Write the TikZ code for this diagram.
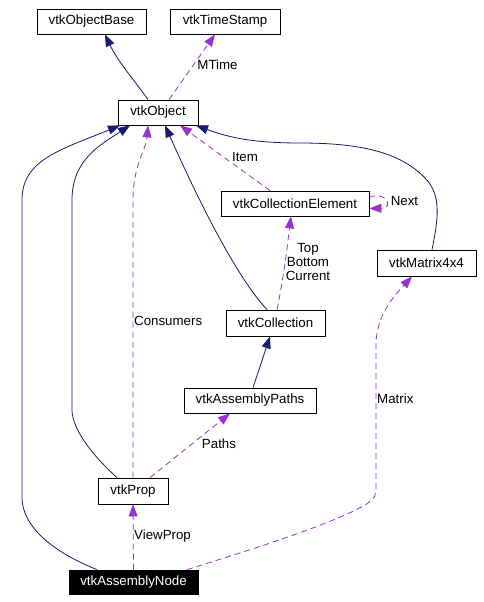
\documentclass[tikz,border=0pt]{standalone}
\usepackage{fontspec}
\setmainfont{Liberation Sans}
\usetikzlibrary{arrows.meta}
\definecolor{navyc}{HTML}{191970}
\definecolor{orchidc}{HTML}{9932CC}
\begin{document}
\begin{tikzpicture}[x=1pt,y=-1pt,
  txt/.style={font=\fontsize{13.3}{14}\selectfont},
  box/.style={draw=black, line width=0.8pt, minimum height=25pt, inner sep=0pt, txt},
  inh/.style={draw=navyc, line width=0.8pt, -{Triangle[length=12pt,width=9pt]}, fill=none},
  use/.style={draw=orchidc, line width=0.8pt, dash pattern=on 6pt off 4pt, -{Triangle[length=12pt,width=9pt]}},
  lbl/.style={txt, inner sep=0pt, text=black}]
\useasboundingbox[fill=white] (0,0) rectangle (483,602);
\node[box, minimum width=109pt] (ob) at (91.5,21.5) {vtkObjectBase};
\node[box, minimum width=110pt] (ts) at (225,21.5) {vtkTimeStamp};
\node[box, minimum width=80pt] (obj) at (158,112.5) {vtkObject};
\node[box, minimum width=148pt] (ce) at (295,203.5) {vtkCollectionElement};
\node[box, minimum width=99pt, minimum height=26pt] (mx) at (426.5,263) {vtkMatrix4x4};
\node[box, minimum width=99pt, minimum height=26pt] (col) at (275.5,323) {vtkCollection};
\node[box, minimum width=132pt] (ap) at (250,400.5) {vtkAssemblyPaths};
\node[box, minimum width=70pt, minimum height=26pt] (prop) at (133,491) {vtkProp};
\node[box, minimum width=129pt, minimum height=24pt, fill=black, text=white] (an) at (133.5,582) {vtkAssemblyNode};
% inheritance
\draw[inh] ([xshift=-10pt]obj.north) .. controls (138,85) and (118,62) .. ([xshift=13.5pt]ob.south);
\draw[inh] ([xshift=-36.5pt]an.north) .. controls (60,555) and (22,530) .. (22,497) -- (22,200) .. controls (22,160) and (60,150) .. ([xshift=-38pt]obj.south);
\draw[inh] ([xshift=-16pt]prop.north) .. controls (95,458) and (72,430) .. (72,410) -- (72,200) .. controls (72,160) and (100,145) .. ([xshift=-28pt]obj.south);
\draw[inh] ([xshift=-8.5pt]col.north) .. controls (230,270) and (185,170) .. ([xshift=7pt]obj.south);
\draw[inh] ([xshift=5.5pt]mx.north) .. controls (438,220) and (442,195) .. (425,178) .. controls (400,152) and (360,143) .. (300,143) .. controls (255,143) and (230,138) .. ([xshift=38pt]obj.south);
\draw[inh] ([xshift=3pt]ap.north) -- ([xshift=-5.5pt]col.south);
% usage
\draw[use] ([xshift=11pt]obj.north) -- ([xshift=-10pt]ts.south);
\node[lbl] (lmtime) at (217.5,65) {MTime};
\draw[use] (prop.north) -- (133,200) .. controls (133,165) and (146,150) .. ([xshift=-10pt]obj.south);
\node[lbl, anchor=west] (lcons) at (134,321) {Consumers};
\draw[use] ([xshift=-25pt]ce.north) -- ([xshift=22pt]obj.south);
\node[lbl] (litem) at (245,156.5) {Item};
\draw[use] ([yshift=6pt]ce.east) .. controls (385,190) and (395,208) .. ([yshift=-5pt]ce.east);
\node[lbl] (lnext) at (404.5,201) {Next};
\draw[use] ([xshift=1.5pt]col.north) .. controls (285,270) and (288,240) .. ([xshift=-4pt]ce.south);
\node[lbl, align=center] (ltop) at (308,262) {Top\\Bottom\\Current};
\draw[use] ([xshift=17pt]prop.north) -- ([xshift=-20pt]ap.south);
\node[lbl] (lpaths) at (219,444) {Paths};
\draw[use] (an.north) -- (prop.south);
\node[lbl, anchor=west] (lview) at (134,535.7) {ViewProp};
\draw[use] ([xshift=53.5pt]an.north) .. controls (250,550) and (330,525) .. (365,505) .. controls (376,498) and (376,495) .. (376,485) -- (376,345) .. controls (376,315) and (395,295) .. ([xshift=-14.5pt]mx.south);
\node[lbl, anchor=west] (lmatrix) at (377,399) {Matrix};
\end{tikzpicture}
\end{document}
